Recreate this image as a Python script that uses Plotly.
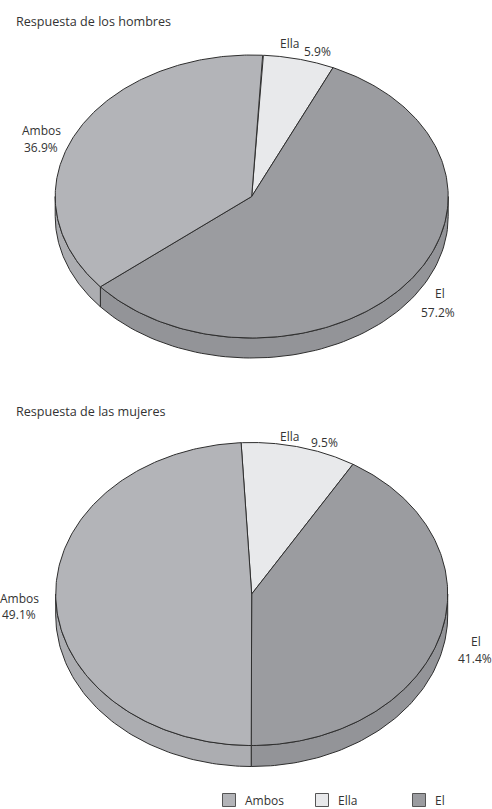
import numpy as np
import plotly.graph_objects as go

# ---- data ----
categories = ["Ambos", "Ella", "El"]
men_values = [36.9, 5.9, 57.2]
women_values = [49.1, 9.5, 41.4]
chart_titles = ["Respuesta de los hombres", "Respuesta de las mujeres"]

# ---- style ----
top_colors = {"Ambos": "#b3b4b8", "Ella": "#e8e9eb", "El": "#9b9ca0"}
side_colors = {"Ambos": "#acadb1", "Ella": "#dfe0e2", "El": "#939498"}
edge = "#2e2e2e"
font_family = "Open Sans, Lato, sans-serif"
text_color = "#333333"
draw_order = ["Ella", "El", "Ambos"]  # clockwise from start angle

W, H = 492, 809

# geometry (pixel-like layout constants)
pies = [
    dict(values=men_values, cx=251.7, cy=196.5, rx=196.5, ry=141.5, depth=20, start=3.2,
         title_pos=(14, 21),
         label_pos={"Ambos": ((41, 130), (41, 147)), "Ella": ((289, 43), (317, 51)),
                    "El": ((440, 293), (438, 312))}),
    dict(values=women_values, cx=251.7, cy=594.0, rx=196.0, ry=151.5, depth=21, start=-3.1,
         title_pos=(14, 411),
         label_pos={"Ambos": ((19, 598), (19, 614)), "Ella": ((289, 436), (324, 442)),
                    "El": ((476, 641), (475, 658))}),
]
legend_pos = {"Ambos": (229, 800), "Ella": (322, 800), "El": (419, 800)}

fig = go.Figure()


def pt(p, t, dy=0.0):
    r = np.radians(t)
    return p["cx"] + p["rx"] * np.sin(r), p["cy"] - p["ry"] * np.cos(r) + dy


annotations = []
for p in pies:
    vals = dict(zip(categories, p["values"]))
    total = sum(vals.values())
    ranges = []
    a = p["start"]
    for c in draw_order:
        b = a + 360.0 * vals[c] / total
        ranges.append((c, a, b))
        a = b
    # sides (front half visible)
    for c, a, b in ranges:
        for lo, hi in [(90, 270), (450, 630), (-270, -90)]:
            s, e = max(a, lo), min(b, hi)
            if e <= s:
                continue
            ts = np.linspace(s, e, 80)
            xt, yt = pt(p, ts)
            xb, yb = pt(p, ts[::-1], p["depth"])
            xs = np.concatenate([xt, xb, xt[:1]])
            ys = np.concatenate([yt, yb, yt[:1]])
            fig.add_trace(go.Scatter(x=xs, y=ys, mode="lines", fill="toself",
                                     fillcolor=side_colors[c],
                                     line=dict(color=edge, width=1),
                                     hoverinfo="skip", showlegend=False))
    # top faces
    for c, a, b in ranges:
        ts = np.linspace(a, b, 200)
        xt, yt = pt(p, ts)
        xs = np.concatenate([[p["cx"]], xt, [p["cx"]]])
        ys = np.concatenate([[p["cy"]], yt, [p["cy"]]])
        fig.add_trace(go.Scatter(x=xs, y=ys, mode="lines", fill="toself",
                                 fillcolor=top_colors[c],
                                 line=dict(color=edge, width=1),
                                 hoverinfo="skip", showlegend=False))
    # labels
    for c in categories:
        (x1, y1), (x2, y2) = p["label_pos"][c]
        annotations.append(dict(x=x1, y=y1, text=c, showarrow=False, xanchor="center",
                                yanchor="middle", font=dict(size=12, color=text_color,
                                                            family=font_family)))
        annotations.append(dict(x=x2, y=y2, text=f"{vals[c]:.1f}%", showarrow=False,
                                xanchor="center", yanchor="middle",
                                font=dict(size=12, color=text_color, family=font_family)))

for p, t in zip(pies, chart_titles):
    annotations.append(dict(x=p["title_pos"][0], y=p["title_pos"][1], text=t, showarrow=False,
                            xanchor="left", yanchor="middle",
                            font=dict(size=12.6, color=text_color, family=font_family)))

# legend
for c in categories:
    lx, ly = legend_pos[c]
    fig.add_trace(go.Scatter(x=[lx], y=[ly], mode="markers",
                             marker=dict(symbol="square", size=13, color=top_colors[c],
                                         line=dict(color="#555555", width=1)),
                             hoverinfo="skip", showlegend=False))
    annotations.append(dict(x=lx + 14, y=ly, text=c, showarrow=False, xanchor="left",
                            yanchor="middle",
                            font=dict(size=12, color=text_color, family=font_family)))

fig.update_layout(
    width=W, height=H,
    margin=dict(l=0, r=0, t=0, b=0),
    paper_bgcolor="white", plot_bgcolor="white",
    xaxis=dict(range=[0, W], visible=False, fixedrange=True),
    yaxis=dict(range=[H, 0], visible=False, fixedrange=True),
    annotations=annotations,
    showlegend=False,
)

fig.write_html("out.html", config={"displayModeBar": False},
               post_script="document.body.style.margin='0';document.body.style.overflow='hidden';")
